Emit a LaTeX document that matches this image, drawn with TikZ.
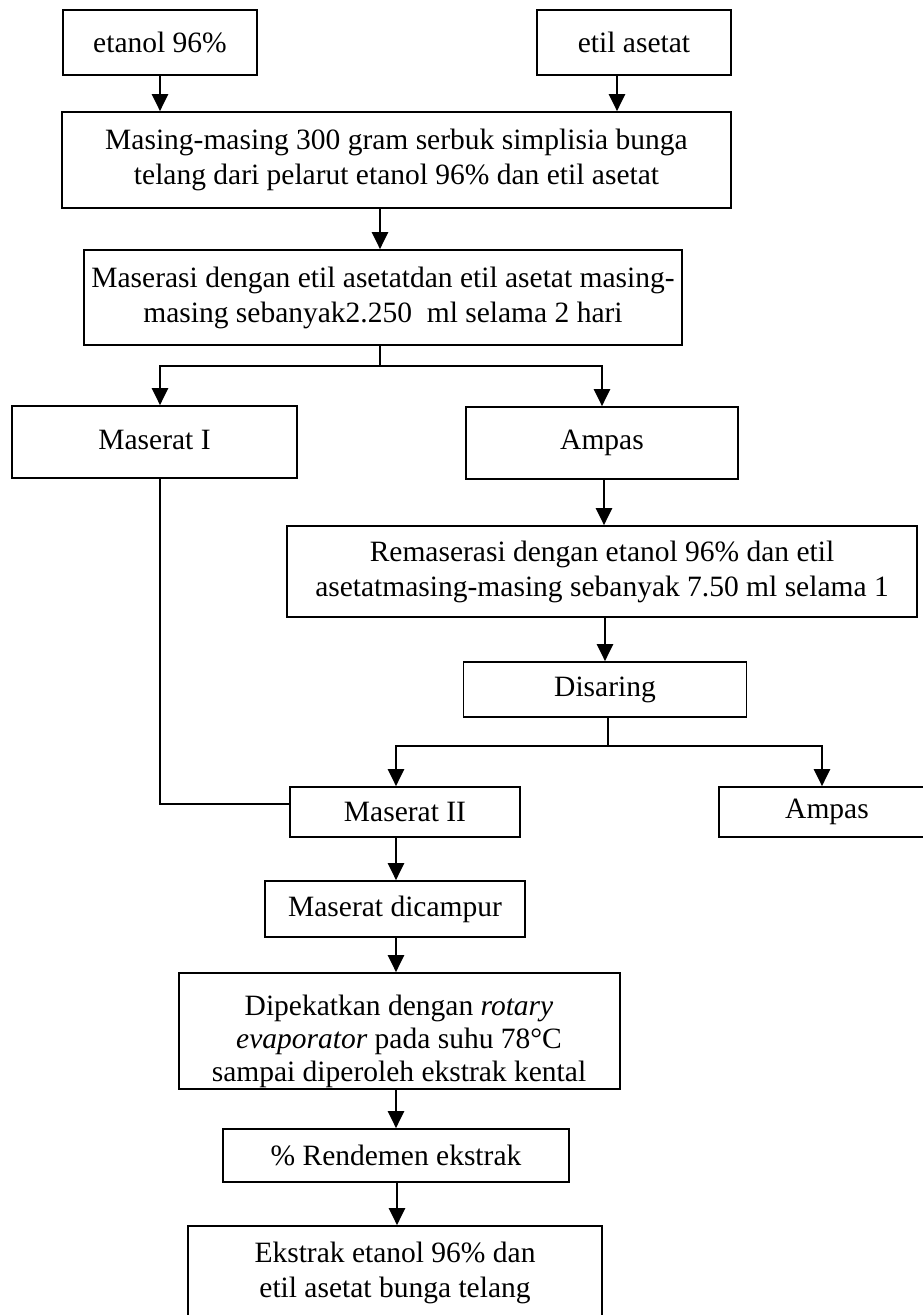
\documentclass[tikz,border=0pt]{standalone}
\usepackage{fontspec}
\setmainfont{Liberation Serif}
\usetikzlibrary{arrows.meta}
\begin{document}
\begin{tikzpicture}[x=1pt,y=-1pt,
  box/.style={draw, line width=1.7pt, inner sep=0pt, align=center, font=\fontsize{29.5}{35}\selectfont},
  txt/.style={inner sep=0pt, align=center, font=\fontsize{29.5}{33}\selectfont},
  arr/.style={line width=2.4pt, -{Triangle[length=17pt,width=16pt]}},
  conn/.style={line width=2.4pt}]
\useasboundingbox (0,0) rectangle (923,1315);

\node[box, minimum width=194pt, minimum height=65pt] (e1) at (160,42.5) {etanol 96\%};
\node[box, minimum width=194pt, minimum height=65pt] (e2) at (634,42.5) {etil asetat};
\node[box, minimum width=669pt, minimum height=96pt] (b1) at (396.5,160) {Masing-masing 300 gram serbuk simplisia bunga\\telang dari pelarut etanol 96\% dan etil asetat};
\node[box, minimum width=598pt, minimum height=95pt] (b2) at (383,297.5) {Maserasi dengan etil asetatdan etil asetat masing-\\masing sebanyak2.250~ ml selama 2 hari};
\node[box, minimum width=285pt, minimum height=72pt] (m1) at (154.5,442) {\raisebox{5pt}{Maserat I}};
\node[box, minimum width=272pt, minimum height=72pt] (a1) at (602,443) {Ampas};
\node[box, minimum width=630pt, minimum height=91pt] (r) at (602,571.5) {Remaserasi dengan etanol 96\% dan etil\\asetatmasing-masing sebanyak 7.50 ml selama 1};
\node[box, minimum width=283pt, minimum height=55pt] (d) at (605,689.5) {Disaring};
\node[box, minimum width=230pt, minimum height=50pt] (m2) at (405,812) {Maserat II};
\node[box, minimum width=216pt, minimum height=50pt] (a2) at (827,812) {Ampas};
\node[box, minimum width=260pt, minimum height=56pt] (mc) at (395,909) {Maserat dicampur};
\node[box, minimum width=441pt, minimum height=116pt] (dp) at (399.5,1031) {};
\begin{scope}
  \clip (dp.south west) rectangle (dp.north east);
  \node[txt] (dpt) at (399,1041) {Dipekatkan dengan \textit{rotary}\\\textit{evaporator} pada suhu 78°C\\sampai diperoleh ekstrak kental};
\end{scope}
\node[box, minimum width=346pt, minimum height=53pt] (rd) at (396,1155.5) {\% Rendemen ekstrak};
\node[box, minimum width=414pt, minimum height=94pt] (ek) at (395,1273) {Ekstrak etanol 96\% dan\\etil asetat bunga telang};

\draw[arr] (e1.south) -- (e1.south |- b1.north);
\draw[arr] ([xshift=-17pt]e2.south) -- ([xshift=-17pt]e2.south |- b1.north);
\draw[arr] ([xshift=-3pt]b2.north |- b1.south) -- ([xshift=-3pt]b2.north);
\draw[conn] ([xshift=-3pt]b2.south) -- ++(0,20) coordinate (s1);
\draw[arr] (s1) -| ([xshift=5.5pt]m1.north);
\draw[arr] (s1) -| (a1.north);
\draw[arr] ([xshift=2pt]a1.south) -- ([xshift=2pt]a1.south |- r.north);
\draw[arr] (d.north |- r.south) -- (d.north);
\draw[conn] ([xshift=3pt]d.south) -- ++(0,28) coordinate (s2);
\draw[arr] (s2) -| ([xshift=-9pt]m2.north);
\draw[arr] (s2) -| ([xshift=-5pt]a2.north);
\draw[conn] ([xshift=5.5pt]m1.south) |- ([yshift=8pt]m2.west);
\draw[arr] ([xshift=-9pt]m2.south) -- ([xshift=-9pt]m2.south |- mc.north);
\draw[arr] ([xshift=1pt]mc.south) -- ([xshift=1pt]mc.south |- dp.north);
\draw[arr] ([xshift=-3.5pt]dp.south) -- ([xshift=-3.5pt]dp.south |- rd.north);
\draw[arr] ([xshift=1pt]rd.south) -- ([xshift=1pt]rd.south |- ek.north);
\end{tikzpicture}
\end{document}
